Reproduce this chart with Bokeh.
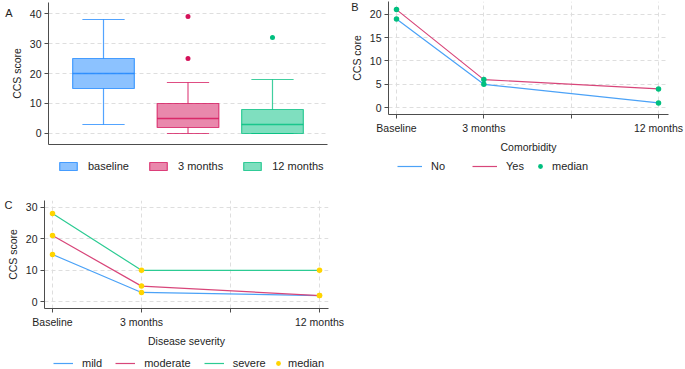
from bokeh.plotting import figure
from bokeh.layouts import column, row
from bokeh.models import Range1d, FixedTicker, Legend, LegendItem, LinearAxis, ColumnDataSource
from bokeh.embed import file_html
from bokeh.resources import INLINE

# ---- data -------------------------------------------------------------
# Panel A: CCS score distribution at each time point
groups = ["baseline", "3 months", "12 months"]
box_low = [3, 0, 0]
box_q1 = [15, 2, 0]
box_med = [20, 5, 3]
box_q3 = [25, 10, 8]
box_high = [38, 17, 18]
outlier_group = [2, 2, 3]
outlier_value = [25, 39, 32]

# Panels B and C: median CCS score over follow-up
time_ticks = [0, 1, 2, 3]
time_labels = ["Baseline", "3 months", "", "12 months"]
time_pos = [0, 1, 3]
comorb_no = [19, 5, 1]
comorb_yes = [21, 6, 4]
sev_mild = [15, 3, 2]
sev_moderate = [21, 5, 2]
sev_severe = [28, 10, 10]

# ---- style --------------------------------------------------------------
FONT = "Liberation Sans"
BLUE, PINK, GREEN, YELLOW = "#1a85ff", "#d41159", "#00bf7f", "#ffd400"
LINE_BLUE, LINE_PINK, LINE_GREEN = "#4ba2f7", "#d8467a", "#2ccb93"
AXIS = "#4d4d4d"
TEXT = "#1e1e1e"
GRID = "#dedede"
NAN = [float("nan")]  # legend keys carry no visible data


def style(p):
    p.background_fill_color = "white"
    p.border_fill_color = "white"
    p.outline_line_color = None
    for ax in p.axis:
        ax.axis_line_color = AXIS
        ax.major_tick_line_color = AXIS
        ax.minor_tick_line_color = None
        ax.major_tick_out = 4
        ax.major_tick_in = 0
        ax.major_label_standoff = 3
        ax.major_label_text_font = FONT
        ax.major_label_text_font_size = "10.5px"
        ax.major_label_text_color = TEXT
        ax.axis_label_text_font = FONT
        ax.axis_label_text_font_size = "10.5px"
        ax.axis_label_text_font_style = "normal"
        ax.axis_label_text_color = TEXT
        ax.axis_label_standoff = 4
    for g in p.grid:
        g.grid_line_color = GRID
        g.grid_line_dash = "4 3"
        g.grid_line_width = 1


def make_fig(width, height, xr, yr, borders):
    return figure(width=width, height=height, x_range=Range1d(*xr), y_range=Range1d(*yr),
                  output_backend="svg", toolbar_location=None, frame_align=False,
                  min_border_left=borders[0], min_border_right=borders[1],
                  min_border_top=borders[2], min_border_bottom=borders[3])


def legend_strip(width, height):
    # a bare strip below a panel that only holds its legend
    p = figure(width=width, height=height, x_range=Range1d(0, 1), y_range=Range1d(0, 1),
               output_backend="svg", toolbar_location=None, frame_align=False,
               x_axis_location=None, y_axis_location=None, min_border=0)
    p.grid.visible = False
    p.outline_line_color = None
    p.background_fill_color = "white"
    p.border_fill_color = "white"
    return p


def add_legend(p, items, location, **kw):
    leg = Legend(items=items, orientation="horizontal", location=location, padding=0, margin=0,
                 border_line_color=None, background_fill_alpha=0, label_text_font=FONT,
                 label_text_font_size="11px", label_text_color=TEXT, label_height=12, **kw)
    p.add_layout(leg)


def panel_letter(p, y, text, standoff):
    # outermost left axis carrying only the panel letter
    ax = LinearAxis(ticker=FixedTicker(ticks=[y]), major_label_overrides={y: text},
                    axis_line_color=None, major_tick_line_color=None, minor_tick_line_color=None,
                    major_tick_out=0, major_tick_in=0, minor_tick_out=0, minor_tick_in=0,
                    major_label_standoff=standoff,
                    major_label_text_font=FONT, major_label_text_font_size="11px",
                    major_label_text_color=TEXT)
    p.add_layout(ax, "left")


# ---- Panel A: box plots -------------------------------------------------
pA = make_fig(340, 155, (0.349, 3.651), (-3.667, 43.667), (48, 13, 2, 11))
style(pA)
pA.xaxis.ticker = FixedTicker(ticks=[])
pA.xgrid.visible = False
pA.yaxis.ticker = FixedTicker(ticks=[0, 10, 20, 30, 40])
pA.yaxis.axis_label = "CCS score"

box_colors = [BLUE, PINK, GREEN]
box_w = 0.73
cap_w = 0.5
legA = legend_strip(340, 30)
items_a = []
for i, name in enumerate(groups):
    xc = i + 1
    c = box_colors[i]
    src = ColumnDataSource(dict(x=[xc], lo=[box_low[i]], q1=[box_q1[i]], med=[box_med[i]],
                                q3=[box_q3[i]], hi=[box_high[i]]))
    pA.segment(x0="x", y0="q3", x1="x", y1="hi", source=src, line_color=c, line_alpha=0.75, line_width=1.2)
    pA.segment(x0="x", y0="lo", x1="x", y1="q1", source=src, line_color=c, line_alpha=0.75, line_width=1.2)
    pA.segment(x0=xc - cap_w / 2, y0=box_high[i], x1=xc + cap_w / 2, y1=box_high[i],
               line_color=c, line_alpha=0.75, line_width=1.2)
    pA.segment(x0=xc - cap_w / 2, y0=box_low[i], x1=xc + cap_w / 2, y1=box_low[i],
               line_color=c, line_alpha=0.75, line_width=1.2)
    pA.vbar(x="x", width=box_w, bottom="q1", top="q3", source=src,
            fill_color=c, fill_alpha=0.5, line_color=c, line_alpha=0.75, line_width=1.2)
    pA.segment(x0=xc - box_w / 2, y0=box_med[i], x1=xc + box_w / 2, y1=box_med[i],
               line_color=c, line_alpha=0.8, line_width=1.3)
    key = legA.vbar(x=NAN, top=NAN, width=0.1, fill_color=c, fill_alpha=0.5, line_color=c,
                    line_alpha=0.75, line_width=1.2)
    items_a.append(LegendItem(label=name, renderers=[key]))

out_colors = [box_colors[g - 1] for g in outlier_group]
pA.scatter(outlier_group, outlier_value, size=5, color=out_colors, line_width=0)
panel_letter(pA, 40.3, "A", -5)
add_legend(legA, items_a, (57, 13), glyph_width=22, glyph_height=10, label_standoff=9, spacing=18)


def line_panel(width, height, xr, yr, borders, yticks, ylabel, xlabel):
    p = make_fig(width, height, xr, yr, borders)
    style(p)
    p.xaxis.ticker = FixedTicker(ticks=time_ticks)
    p.xaxis.major_label_overrides = {t: lab for t, lab in zip(time_ticks, time_labels)}
    p.yaxis.ticker = FixedTicker(ticks=yticks)
    p.yaxis.axis_label = ylabel
    p.xaxis.axis_label = xlabel
    return p


# ---- Panel B: comorbidity ----------------------------------------------
pB = line_panel(345, 155, (-0.0916, 3.1145), (-1.474, 22.74), (48, 17, 1, 39),
                [0, 5, 10, 15, 20], "CCS core", "Comorbidity")
pB.line(time_pos, comorb_no, line_color=LINE_BLUE, line_width=1.2)
pB.line(time_pos, comorb_yes, line_color=LINE_PINK, line_width=1.2)
pB.scatter(time_pos * 2, comorb_no + comorb_yes, size=5.5, color=GREEN, line_width=0)
panel_letter(pB, 21.5, "B", -11)

legB = legend_strip(345, 30)
kb_no = legB.line(NAN, NAN, line_color=LINE_BLUE, line_width=1.2)
kb_yes = legB.line(NAN, NAN, line_color=LINE_PINK, line_width=1.2)
kb_med = legB.scatter(NAN, NAN, size=5.5, color=GREEN, line_width=0)
add_legend(legB, [LegendItem(label="No", renderers=[kb_no]),
                  LegendItem(label="Yes", renderers=[kb_yes])],
           (57, 13), glyph_width=25, glyph_height=12, label_standoff=9, spacing=21)
add_legend(legB, [LegendItem(label="median", renderers=[kb_med])],
           (194, 13), glyph_width=12, glyph_height=12, label_standoff=6)

# ---- Panel C: disease severity -----------------------------------------
pC = line_panel(345, 164, (-0.09, 3.101), (-2.08, 32.08), (44, 17, 15, 34),
                [0, 10, 20, 30], "CCS score", "Disease severity")
pC.line(time_pos, sev_mild, line_color=LINE_BLUE, line_width=1.2)
pC.line(time_pos, sev_moderate, line_color=LINE_PINK, line_width=1.2)
pC.line(time_pos, sev_severe, line_color=LINE_GREEN, line_width=1.2)
pC.scatter(time_pos * 3, sev_mild + sev_moderate + sev_severe, size=5.5, color=YELLOW, line_width=0)
panel_letter(pC, 30.5, "C", -9)

legC = legend_strip(345, 20)
kc_mild = legC.line(NAN, NAN, line_color=LINE_BLUE, line_width=1.2)
kc_mod = legC.line(NAN, NAN, line_color=LINE_PINK, line_width=1.2)
kc_sev = legC.line(NAN, NAN, line_color=LINE_GREEN, line_width=1.2)
kc_med = legC.scatter(NAN, NAN, size=5.5, color=YELLOW, line_width=0)
add_legend(legC, [LegendItem(label="mild", renderers=[kc_mild]),
                  LegendItem(label="moderate", renderers=[kc_mod]),
                  LegendItem(label="severe", renderers=[kc_sev])],
           (53, 0), glyph_width=20, glyph_height=12, label_standoff=9, spacing=13)
add_legend(legC, [LegendItem(label="median", renderers=[kc_med])],
           (272, 0), glyph_width=12, glyph_height=12, label_standoff=4)

layout = column(row(column(pA, legA), column(pB, legB)), column(pC, legC))
open("out.html", "w").write(file_html(layout, INLINE))
